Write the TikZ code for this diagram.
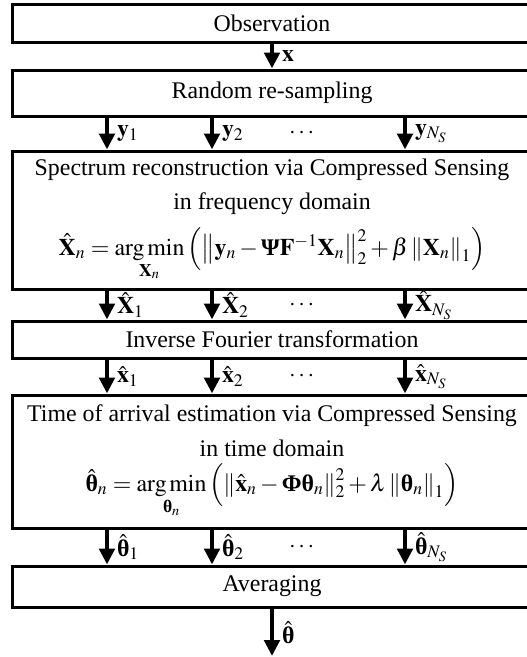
\documentclass[tikz,border=0pt]{standalone}
\usepackage{amsmath}
\usepackage{mathptmx}
\usepackage[no-math]{fontspec}
\setmainfont{Liberation Serif}
\usepackage{tikz}
\usetikzlibrary{arrows.meta,calc}
\newcommand{\bth}{\textbf{θ}}
\newcommand{\bPsi}{\textbf{Ψ}}
\newcommand{\bPhi}{\textbf{Φ}}

\begin{document}
\begin{tikzpicture}[x=0.75pt,y=-0.75pt,
  blk/.style={draw,line width=2.25pt,minimum width=390pt,align=center,inner sep=0pt},
  flow/.style={line width=3pt,-{Triangle[width=11.5pt,length=12pt]}},
  lab/.style={right,xshift=6pt,inner sep=0pt},
  font=\fontsize{17.9}{26}\selectfont]
\useasboundingbox (0,0) rectangle (526,657);
\node[blk,minimum height=28.5pt] (obs) at (272,23) {Observation};
\node[blk,minimum height=34.5pt] (rs) at (272,93) {Random re-sampling};
\node[blk,minimum height=103.5pt] (sr) at (272,220) {Spectrum reconstruction via Compressed Sensing\\
  in frequency domain\\[8pt]
  $\hat{\mathbf{X}}_n=\mathop{\mathrm{arg\,min}}\limits_{\mathbf{X}_n}\left(\left\|\mathbf{y}_n-\bPsi\mathbf{F}^{-1}\mathbf{X}_n\right\|_2^2+\beta\left\|\mathbf{X}_n\right\|_1\right)$};
\node[blk,minimum height=27.75pt] (ift) at (272,339.5) {Inverse Fourier transformation};
\node[blk,minimum height=99.75pt] (toa) at (272,461.5) {Time of arrival estimation via Compressed Sensing\\
  in time domain\\
  $\hat{\bth}_n=\mathop{\mathrm{arg\,min}}\limits_{\bth_n}\left(\left\|\hat{\mathbf{x}}_n-\bPhi\bth_n\right\|_2^2+\lambda\left\|\bth_n\right\|_1\right)$};
\node[blk,minimum height=30.75pt] (avg) at (272,586.5) {Averaging};
\coordinate (end) at (272,656);
% columns of the N_S branches
\coordinate (c1) at (107,0);
\coordinate (c2) at (212,0);
\coordinate (c3) at (405,0);
\coordinate (cd) at (303,0);
\draw[flow] (obs) -- (rs) node[lab,midway] {$\mathbf{x}$};
\foreach \a/\b/\v in {rs/sr/{\mathbf{y}},sr/ift/{\hat{\mathbf{X}}},ift/toa/{\hat{\mathbf{x}}},toa/avg/{\hat{\bth}}} {
  \foreach \c/\s in {c1/1,c2/2,c3/{N_S}}
    \draw[flow] (\a.south -| \c) -- (\b.north -| \c) node[lab,midway] {$\v_{\s}$};
  \node (d-\a) at ($(\a.south -| cd)!0.5!(\b.north -| cd)$) {$\cdots$};
}
\draw[flow] (avg) -- (end) node[lab,midway] {$\hat{\bth}$};
\end{tikzpicture}
\end{document}
